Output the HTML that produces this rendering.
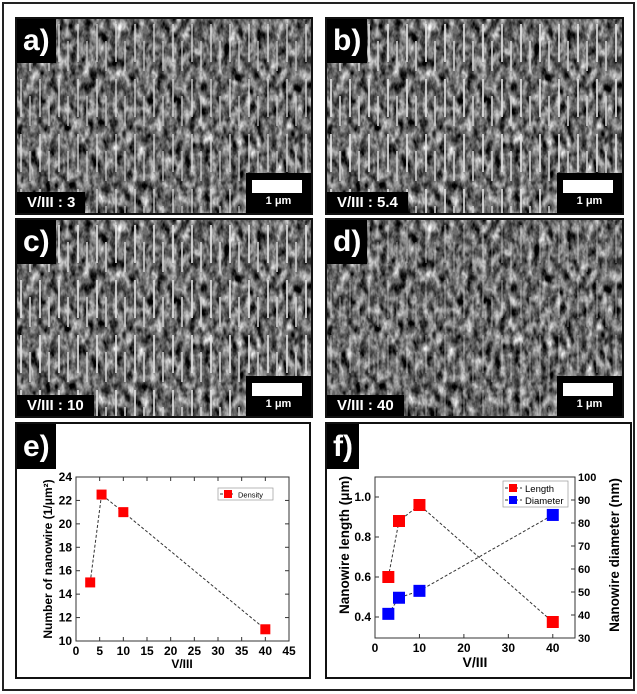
<!DOCTYPE html>
<html><head><meta charset="utf-8"><style>
body{margin:0;background:#fff;width:637px;height:694px;position:relative;overflow:hidden;font-family:"Liberation Sans",sans-serif}
.frame{position:absolute;left:2px;top:2px;width:629px;height:685px;border:2px solid #222}
.sem{position:absolute;border:2px solid #111;overflow:hidden;background:#555}
.lbl{position:absolute;left:0;top:0;background:#000;color:#fff;font-weight:bold;font-size:30px;line-height:44px;padding:0 6px}
.cond{position:absolute;left:0;bottom:0;background:#000;color:#fff;font-weight:bold;font-size:15px;line-height:21px;padding:0 10px}
.scale{position:absolute;right:0;bottom:0;width:65px;height:40px;background:#000}
.scale i{position:absolute;left:6px;top:7px;width:50px;height:13px;background:#fff}
.scale b{position:absolute;left:0;width:65px;top:22px;text-align:center;color:#fff;font-size:11px;font-weight:bold}
.box{position:absolute;border:2px solid #111;background:#fff}
</style></head><body>
<svg width="0" height="0" style="position:absolute"><defs>
<filter id="semf" x="0" y="0" width="100%" height="100%" color-interpolation-filters="sRGB"><feTurbulence type="fractalNoise" baseFrequency="0.15 0.08" numOctaves="3" seed="4"/><feColorMatrix type="matrix" values="0.33 0.33 0.33 0 0 0.33 0.33 0.33 0 0 0.33 0.33 0.33 0 0 0 0 0 0 1"/><feComponentTransfer><feFuncR type="linear" slope="2.4" intercept="-0.78"/><feFuncG type="linear" slope="2.4" intercept="-0.78"/><feFuncB type="linear" slope="2.4" intercept="-0.78"/></feComponentTransfer></filter>
<pattern id="wires" width="19" height="55" patternUnits="userSpaceOnUse"><rect x="3" y="5" width="2" height="38" fill="#e6e6e6"/><rect x="12" y="22" width="2" height="30" fill="#d0d0d0"/></pattern>
</defs></svg>
<div class="frame"></div>

<div class="sem" style="left:15px;top:17px;width:294px;height:194px">
<svg width="294" height="194"><rect width="294" height="194" filter="url(#semf)"/><rect width="294" height="194" fill="url(#wires)" opacity="0.6"/></svg>
<div class="lbl">a)</div>
<div class="cond">V/III : 3</div>
<div class="scale"><i></i><b>1 μm</b></div></div>

<div class="sem" style="left:325px;top:17px;width:295px;height:194px">
<svg width="295" height="194"><rect width="295" height="194" filter="url(#semf)"/><rect width="295" height="194" fill="url(#wires)" opacity="0.8"/></svg>
<div class="lbl">b)</div>
<div class="cond">V/III : 5.4</div>
<div class="scale"><i></i><b>1 μm</b></div></div>

<div class="sem" style="left:15px;top:218px;width:294px;height:196px">
<svg width="294" height="196"><rect width="294" height="196" filter="url(#semf)"/><rect width="294" height="196" fill="url(#wires)" opacity="0.8"/></svg>
<div class="lbl">c)</div>
<div class="cond">V/III : 10</div>
<div class="scale"><i></i><b>1 μm</b></div></div>

<div class="sem" style="left:325px;top:218px;width:295px;height:196px">
<svg width="295" height="196"><rect width="295" height="196" filter="url(#semf)"/><rect width="295" height="196" fill="url(#wires)" opacity="0.3"/></svg>
<div class="lbl">d)</div>
<div class="cond">V/III : 40</div>
<div class="scale"><i></i><b>1 μm</b></div></div>

<div class="box" style="left:15px;top:422px;width:292px;height:253px">
<div class="lbl" style="line-height:45px">e)</div></div>
<div class="box" style="left:325px;top:422px;width:303px;height:253px">
<div class="lbl" style="line-height:45px">f)</div></div>

<svg id="charts" width="637" height="694" style="position:absolute;left:0;top:0" font-family="Liberation Sans, sans-serif"></svg>
<script>
const densX=[3,5.4,10,40];
const densY=[15,22.5,21,11];
const eXTicks=[0,5,10,15,20,25,30,35,40,45];
const eYTicks=[10,12,14,16,18,20,22,24];
const fX=[3,5.4,10,40];
const fLength=[0.6,0.88,0.96,0.375];
const fDiameter=[40.5,47.5,50.5,83.5];
const fXTicks=[0,10,20,30,40];
const fLTicks=[0.4,0.6,0.8,1.0];
const fRTicks=[30,40,50,60,70,80,90,100];
const NS="http://www.w3.org/2000/svg";
const svg=document.getElementById('charts');
function mk(t,a,txt){const e=document.createElementNS(NS,t);for(const k in a)e.setAttribute(k,a[k]);if(txt!==undefined)e.textContent=txt;svg.appendChild(e);return e;}
function lin(d0,d1,r0,r1){return v=>r0+(v-d0)/(d1-d0)*(r1-r0);}
// chart e
const ex=lin(0,45,76,289), ey=lin(10,24,641,477);
let r=mk('rect',{x:76,y:477,width:213,height:164,fill:'none',stroke:'#333','stroke-width':1});

eXTicks.forEach(v=>{mk('line',{x1:ex(v),x2:ex(v),y1:641,y2:637,stroke:'#333'});mk('line',{x1:ex(v),x2:ex(v),y1:477,y2:481,stroke:'#333'});
 let t=mk('text',{x:ex(v),y:655,'text-anchor':'middle','font-size':12,'font-weight':'bold'},v);});
eYTicks.forEach(v=>{mk('line',{x1:76,x2:80,y1:ey(v),y2:ey(v),stroke:'#333'});mk('line',{x1:289,x2:285,y1:ey(v),y2:ey(v),stroke:'#333'});
 let t=mk('text',{x:72,y:ey(v)+4,'text-anchor':'end','font-size':12,'font-weight':'bold'},v);});
let t=mk('text',{x:182,y:668,'text-anchor':'middle','font-size':12,'font-weight':'bold'},'V/III');
t=mk('text',{transform:'translate(52,559) rotate(-90)','text-anchor':'middle','font-size':12,'font-weight':'bold'},'Number of nanowire (1/μm²)');
let p=mk('polyline',{points:densX.map((x,i)=>ex(x)+','+ey(densY[i])).join(' '),fill:'none',stroke:'#333','stroke-dasharray':'3,2'});
densX.forEach((x,i)=>{let m=mk('rect',{x:ex(x)-5,y:ey(densY[i])-5,width:10,height:10,fill:'#f00'});});
let lg=mk('rect',{x:218,y:488,width:55,height:12,fill:'#fff',stroke:'#999','stroke-width':0.7});
mk('line',{x1:220,x2:235,y1:494,y2:494,stroke:'#333','stroke-dasharray':'3,2'});mk('rect',{x:224,y:490,width:8,height:8,fill:'#f00'});
t=mk('text',{x:238,y:497.5,'font-size':7.5},'Density');
// chart f
const fx=lin(0,45,375,575), fyL=lin(0.4,1.0,617,497), fyR=lin(30,100,638,477);
r=mk('rect',{x:375,y:477,width:200,height:161,fill:'none',stroke:'#333'});
fXTicks.forEach(v=>{mk('line',{x1:fx(v),x2:fx(v),y1:638,y2:634,stroke:'#333'});
 let t=mk('text',{x:fx(v),y:652,'text-anchor':'middle','font-size':12,'font-weight':'bold'},v);});
fLTicks.forEach(v=>{mk('line',{x1:375,x2:379,y1:fyL(v),y2:fyL(v),stroke:'#333'});
 let t=mk('text',{x:371,y:fyL(v)+4,'text-anchor':'end','font-size':12,'font-weight':'bold'},v.toFixed(1));});
fRTicks.forEach(v=>{mk('line',{x1:575,x2:571,y1:fyR(v),y2:fyR(v),stroke:'#333'});
 let t=mk('text',{x:578,y:fyR(v)+4,'font-size':11,'font-weight':'bold'},v);});
t=mk('text',{x:475,y:667,'text-anchor':'middle','font-size':14,'font-weight':'bold'},'V/III');
t=mk('text',{transform:'translate(349,545) rotate(-90)','text-anchor':'middle','font-size':13.5,'font-weight':'bold'},'Nanowire length (μm)');
t=mk('text',{transform:'translate(619,555) rotate(-90)','text-anchor':'middle','font-size':13.5,'font-weight':'bold'},'Nanowire diameter (nm)');
p=mk('polyline',{points:fX.map((x,i)=>fx(x)+','+fyL(fLength[i])).join(' '),fill:'none',stroke:'#333','stroke-dasharray':'3,2'});
p=mk('polyline',{points:fX.map((x,i)=>fx(x)+','+fyR(fDiameter[i])).join(' '),fill:'none',stroke:'#333','stroke-dasharray':'3,2'});
fX.forEach((x,i)=>{let m=mk('rect',{x:fx(x)-6,y:fyL(fLength[i])-6,width:12,height:12,fill:'#f00'});
 let n=mk('rect',{x:fx(x)-6,y:fyR(fDiameter[i])-6,width:12,height:12,fill:'#00f'});});
lg=mk('rect',{x:503,y:481,width:65,height:26,fill:'#fff',stroke:'#999','stroke-width':0.7});
mk('line',{x1:505,x2:522,y1:488,y2:488,stroke:'#333','stroke-dasharray':'3,2'});mk('rect',{x:509,y:484,width:8,height:8,fill:'#f00'});
t=mk('text',{x:525,y:492,'font-size':9.5},'Length');
mk('line',{x1:505,x2:522,y1:500,y2:500,stroke:'#333','stroke-dasharray':'3,2'});mk('rect',{x:509,y:496,width:8,height:8,fill:'#00f'});
t=mk('text',{x:525,y:504,'font-size':9.5},'Diameter');
</script>
</body></html>
